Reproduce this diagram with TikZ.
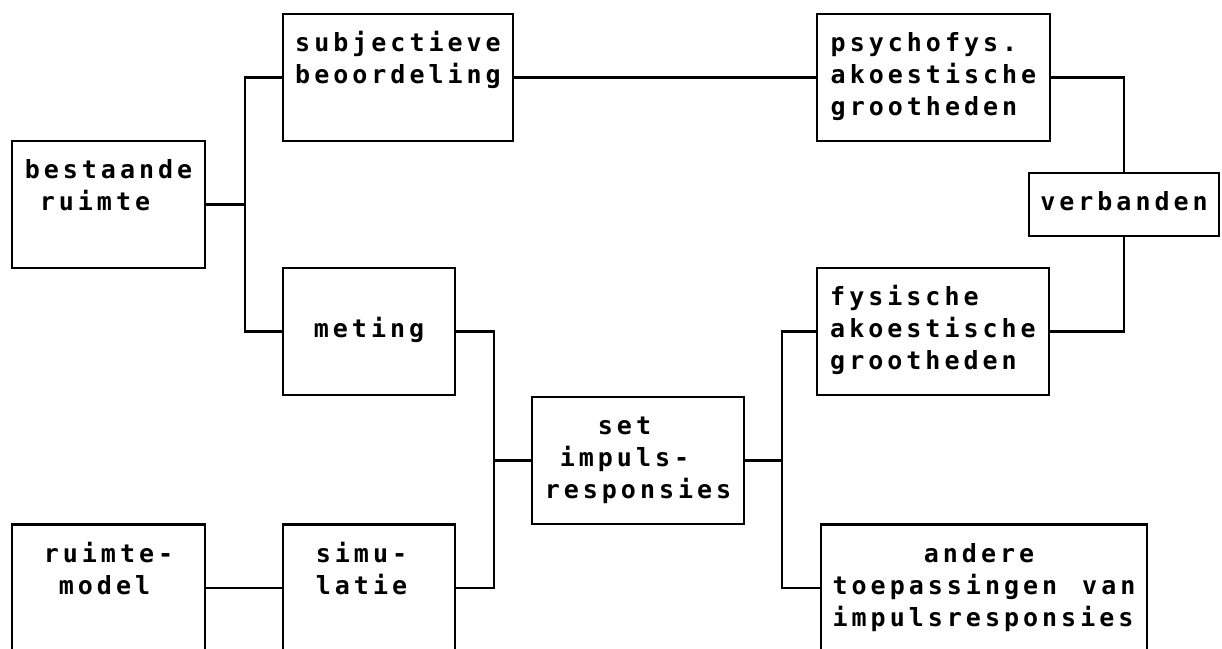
\documentclass[tikz,border=0pt]{standalone}
\usepackage{fontspec}
\newfontfamily\boxfont[LetterSpace=16]{DejaVu Sans Mono}
\begin{document}
\begin{tikzpicture}[x=1pt,y=-1pt,
  box/.style={draw, line width=2.5pt, inner sep=0pt, align=left, minimum height=127pt,
    font=\boxfont\bfseries\fontsize{25}{32}\selectfont},
  link/.style={line width=2.5pt}]
\useasboundingbox (0,0) rectangle (1222,648);
\clip (0,0) rectangle (1222,648);

\node[box, minimum width=193pt] (best) at (108.5,204.5)
  {\strut bestaande\\\strut\hphantom{x}ruimte\\\strut};
\node[box, minimum width=230pt] (sub) at (398,77.5)
  {\strut subjectieve\\\strut beoordeling\\\strut};
\node[box, minimum width=172pt] (met) at (369,331.5)
  {\strut\\\strut meting\\\strut};
\node[box, minimum width=193pt] (rm) at (108.5,588)
  {\strut ruimte-\\\strut\hphantom{x}model\\\strut};
\node[box, minimum width=172pt] (sim) at (369,588)
  {\strut simu-\hphantom{x}\\\strut latie\\\strut};
\node[box, minimum width=212pt] (set) at (638,460.5)
  {\strut\hphantom{xxx}set\\\strut\hphantom{x}impuls-\\\strut responsies};
\node[box, minimum width=233pt] (psy) at (933.5,77.5)
  {\strut psychofys.\\\strut akoestische\\\strut grootheden};
\node[box, minimum width=190pt, minimum height=63pt] (verb) at (1124,204.5)
  {\strut verbanden};
\node[box, minimum width=232pt] (fys) at (933,331.5)
  {\strut fysische\\\strut akoestische\\\strut grootheden};
\node[box, minimum width=326pt] (and) at (984,588)
  {\strut\hphantom{xxxxx}andere\\\strut toepassingen\hspace{25pt}van\\\strut impulsresponsies};

\coordinate (bj) at (245,204.5);
\coordinate (lj) at (494,460.5);
\coordinate (rj) at (782,460.5);

\draw[link] (best.east) -- (bj);
\draw[link] (sub.west) -| (bj) |- (met.west);
\draw[link] (sub.east) -- (psy.west);
\draw[link] (psy.east) -| (verb.north);
\draw[link] (verb.south) |- (fys.east);
\draw[link] (met.east) -| (lj) |- (sim.east);
\draw[link] (lj) -- (set.west);
\draw[link] (set.east) -- (rj);
\draw[link] (fys.west) -| (rj) |- (and.west);
\draw[link] (rm.east) -- (sim.west);
\end{tikzpicture}
\end{document}
